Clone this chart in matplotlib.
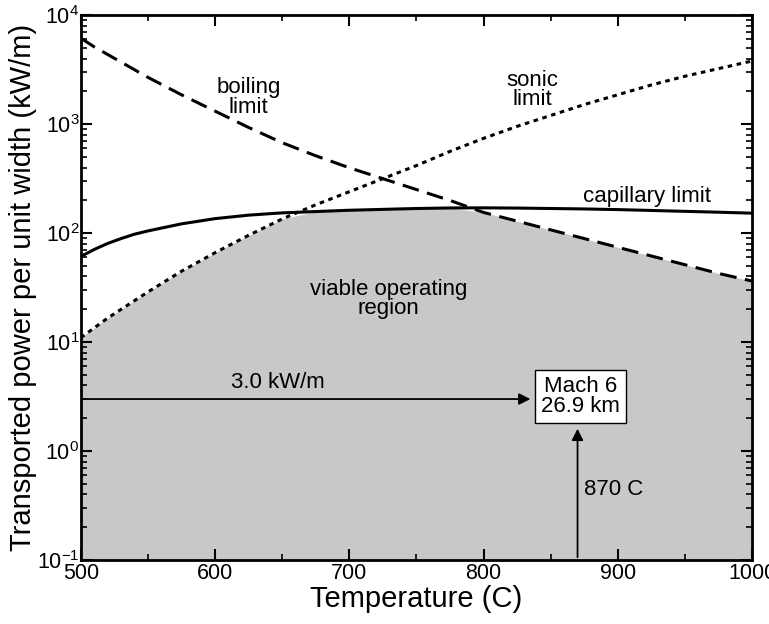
import numpy as np
import matplotlib.pyplot as plt
from matplotlib.ticker import LogLocator, MultipleLocator, NullFormatter

plt.rcParams['font.family'] = ['Liberation Sans', 'DejaVu Sans']

#### data ####
temp_C = np.array([500, 510, 520, 530, 540, 550, 575, 600, 625, 650, 675, 700, 725, 750,
                   775, 800, 825, 850, 875, 900, 925, 950, 975, 1000])
# log10 of power (kW/m)
log_boiling = np.array([3.79, 3.71, 3.64, 3.57, 3.50, 3.43, 3.27, 3.12, 2.97, 2.83, 2.71,
                        2.60, 2.50, 2.40, 2.30, 2.19, 2.11, 2.03, 1.95, 1.87, 1.79, 1.71,
                        1.63, 1.56])
log_sonic = np.array([1.04, 1.13, 1.22, 1.30, 1.38, 1.46, 1.65, 1.82, 1.98, 2.13, 2.26,
                      2.38, 2.50, 2.62, 2.75, 2.87, 2.98, 3.08, 3.18, 3.27, 3.36, 3.44,
                      3.51, 3.58])
log_capillary = np.array([1.785, 1.85, 1.905, 1.95, 1.99, 2.02, 2.085, 2.133, 2.165, 2.186,
                          2.198, 2.21, 2.218, 2.226, 2.231, 2.232, 2.23, 2.226, 2.222,
                          2.216, 2.208, 2.2, 2.192, 2.183])

boiling = 10 ** log_boiling
sonic = 10 ** log_sonic
capillary = 10 ** log_capillary
viable = np.minimum(np.minimum(boiling, sonic), capillary)

design_power = 3.0   # kW/m
design_temp = 870    # C

#### plotting ####
fig = plt.figure(figsize=(7.69, 6.24), dpi=100)
ax = fig.add_axes([0.105, 0.1026, 0.873, 0.873])

ax.fill_between(temp_C, 0.1, viable, color='#c8c8c8', lw=0, zorder=1)

ax.plot(temp_C, boiling, color='k', lw=2.2, dashes=(5.5, 2.8), zorder=3)
ax.plot(temp_C, sonic, color='k', lw=2.2, dashes=(1.5, 1.5), zorder=3)
ax.plot(temp_C, capillary, color='k', lw=2.2, zorder=3)

ax.set_yscale('log')
ax.set_xlim(500, 1000)
ax.set_ylim(0.1, 1e4)

# labels on curves
fs = 16
ax.text(625, 1750, 'boiling\nlimit', ha='center', va='center', fontsize=fs, linespacing=0.9)
ax.text(836, 2050, 'sonic\nlimit', ha='center', va='center', fontsize=fs, linespacing=0.9)
ax.text(922, 215, 'capillary limit', ha='center', va='center', fontsize=fs)
ax.text(729, 25, 'viable operating\nregion', ha='center', va='center', fontsize=fs, linespacing=0.9)

# design point
ax.text(design_temp + 2, 3.16, 'Mach 6\n26.9 km', ha='center', va='center', fontsize=fs,
        linespacing=0.9, zorder=5,
        bbox=dict(boxstyle='square,pad=0.28', fc='white', ec='k', lw=1))
ax.annotate('', xy=(837, design_power), xytext=(500, design_power),
            arrowprops=dict(arrowstyle='-|>', color='k', lw=1.3, mutation_scale=17))
ax.annotate('', xy=(design_temp, 1.70), xytext=(design_temp, 0.1),
            arrowprops=dict(arrowstyle='-|>', color='k', lw=1.3, mutation_scale=17))
ax.text(647, 4.3, '3.0 kW/m', ha='center', va='center', fontsize=fs)
ax.text(875, 0.44, '870 C', ha='left', va='center', fontsize=fs)

ax.set_xlabel('Temperature (C)', fontsize=21, labelpad=1)
ax.set_ylabel('Transported power per unit width (kW/m)', fontsize=21, labelpad=0)

ax.xaxis.set_major_locator(MultipleLocator(100))
ax.xaxis.set_minor_locator(MultipleLocator(50))
ax.yaxis.set_major_locator(LogLocator(base=10, numticks=10))
ax.yaxis.set_minor_locator(LogLocator(base=10, subs=np.arange(2, 10), numticks=20))
ax.yaxis.set_minor_formatter(NullFormatter())

ax.tick_params(which='both', direction='in', top=True, right=True, labelsize=15.5)
ax.tick_params(which='major', length=8, width=1.5)
ax.tick_params(which='minor', length=4, width=1.2)
ax.tick_params(axis='x', pad=2)
ax.tick_params(axis='y', pad=1)

for side in ax.spines.values():
    side.set_linewidth(2)
    side.set_zorder(6)

fig.savefig('out.png', dpi=100)
